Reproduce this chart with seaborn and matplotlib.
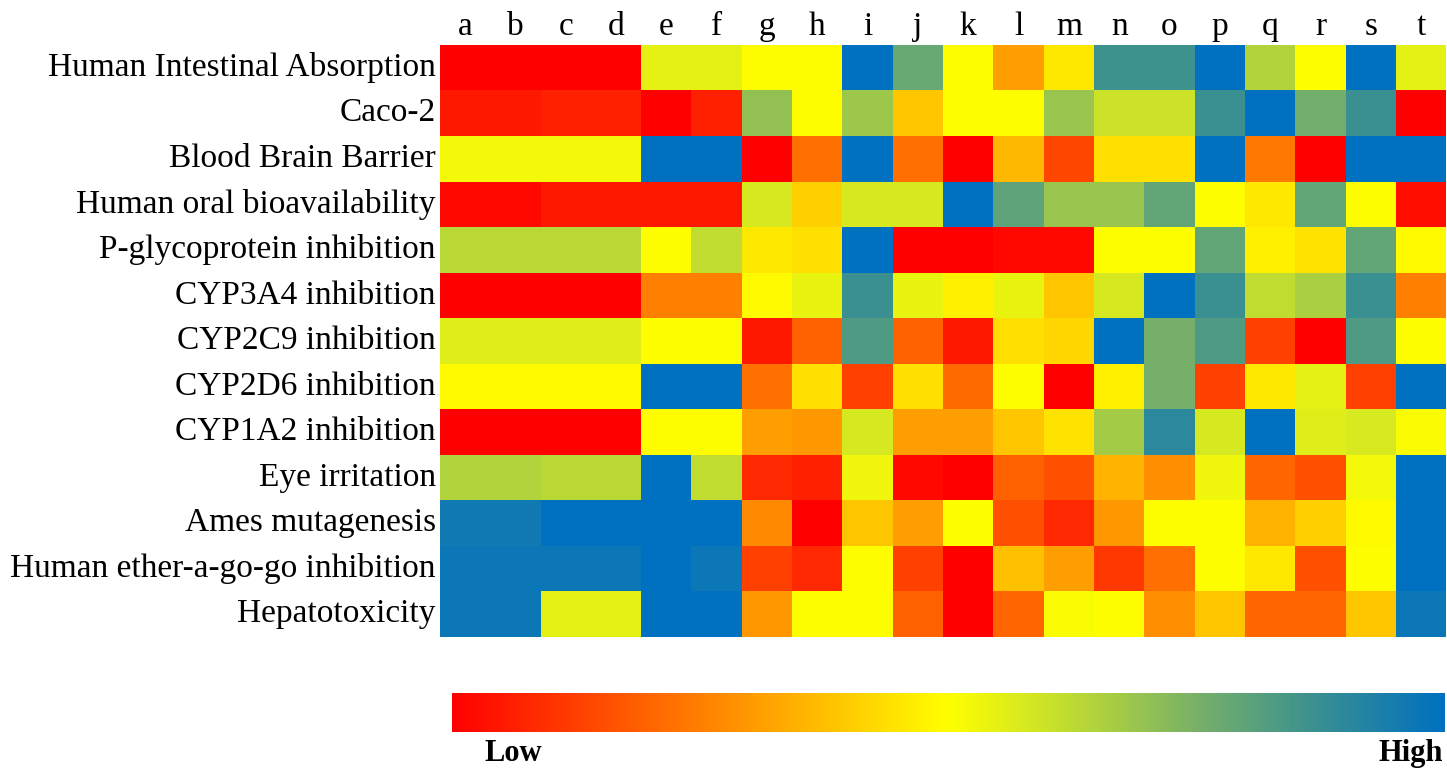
import numpy as np
import pandas as pd
import seaborn as sns
import matplotlib.pyplot as plt
from matplotlib.colors import LinearSegmentedColormap

# compounds a..t and the ADMET properties
compounds = list("abcdefghijklmnopqrst")
properties = ["Human Intestinal Absorption", "Caco-2", "Blood Brain Barrier",
              "Human oral bioavailability", "P-glycoprotein inhibition",
              "CYP3A4 inhibition", "CYP2C9 inhibition", "CYP2D6 inhibition",
              "CYP1A2 inhibition", "Eye irritation", "Ames mutagenesis",
              "Human ether-a-go-go inhibition", "Hepatotoxicity"]

# 0 = low (red), 0.5 = yellow, 1 = high (blue)
hia = [0, 0, 0, 0, .55, .55, .5, .5, 1, .78, .5, .31, .455, .86, .86, 1, .645, .5, 1, .55]
caco2 = [.047, .047, .063, .063, 0, .063, .70, .5, .68, .39, .5, .5, .69, .60, .60, .87, 1, .76, .87, 0]
bbb = [.52, .52, .52, .52, 1, 1, 0, .22, 1, .22, 0, .36, .14, .44, .44, 1, .235, 0, 1, 1]
hob = [.016, .016, .047, .047, .047, .047, .58, .41, .58, .58, 1, .80, .69, .69, .79, .5, .455, .79, .5, .03]
pgp = [.63, .63, .63, .63, .5, .62, .455, .44, 1, 0, 0, .016, .016, .5, .5, .79, .47, .445, .79, .49]
cyp3a4 = [0, 0, 0, 0, .25, .25, .49, .54, .87, .54, .47, .54, .39, .58, 1, .87, .62, .66, .87, .25]
cyp2c9 = [.56, .56, .56, .56, .5, .5, .047, .19, .83, .19, .047, .44, .42, 1, .75, .83, .125, 0, .83, .5]
cyp2d6 = [.49, .49, .49, .49, 1, 1, .22, .44, .125, .44, .21, .5, 0, .47, .75, .125, .455, .55, .125, 1]
cyp1a2 = [0, 0, 0, 0, .5, .5, .31, .30, .58, .31, .31, .39, .445, .67, .90, .58, 1, .56, .575, .51]
eye = [.645, .645, .63, .63, 1, .62, .08, .063, .53, .016, 0, .19, .16, .35, .28, .53, .20, .16, .52, 1]
ames = [.96, .96, 1, 1, 1, 1, .27, 0, .39, .31, .5, .16, .08, .30, .5, .5, .35, .41, .49, 1]
herg = [.97, .97, .97, .97, 1, .97, .125, .08, .5, .125, 0, .375, .31, .11, .22, .5, .455, .16, .5, 1]
hepato = [.97, .97, .55, .55, 1, 1, .30, .5, .5, .19, 0, .20, .51, .5, .28, .39, .20, .20, .39, .97]

df = pd.DataFrame([hia, caco2, bbb, hob, pgp, cyp3a4, cyp2c9, cyp2d6,
                   cyp1a2, eye, ames, herg, hepato],
                  index=properties, columns=compounds)

cmap = LinearSegmentedColormap.from_list("lowhigh", [
    (0.0, "#FF0000"), (0.25, "#FF8000"), (0.5, "#FFFF00"), (0.62, "#C0DC30"),
    (0.75, "#78B068"), (0.87, "#3A9090"), (1.0, "#0070C0")])

sns.set_style("white")
plt.rcParams['font.family'] = ['Liberation Serif', 'DejaVu Serif']
plt.rcParams['text.color'] = 'black'
plt.rcParams['xtick.color'] = 'black'
plt.rcParams['ytick.color'] = 'black'

fig = plt.figure(figsize=(14.47, 7.7), dpi=100)
ax = fig.add_axes([0.304, 0.1727, 0.6955, 0.769])
cax = fig.add_axes([0.3124, 0.049, 0.686, 0.0506])

sns.heatmap(df, cmap=cmap, vmin=0, vmax=1, ax=ax, cbar_ax=cax,
            cbar_kws={"orientation": "horizontal", "ticks": []})

ax.xaxis.tick_top()
ax.tick_params(length=0)
ax.tick_params(axis="x", pad=2)
ax.tick_params(axis="y", pad=3)
ax.set_xticklabels(compounds, fontsize=24, rotation=0, color="black")
ax.set_yticklabels(properties, fontsize=24, rotation=0, color="black")
ax.set_xlabel("")
ax.set_ylabel("")

cbar = ax.collections[0].colorbar
cbar.outline.set_visible(False)
fig.text(0.335, 0.012, "Low", fontsize=22, fontweight="bold", ha="left", va="baseline")
fig.text(0.997, 0.012, "High", fontsize=22, fontweight="bold", ha="right", va="baseline")

fig.savefig("out.png", dpi=100)
